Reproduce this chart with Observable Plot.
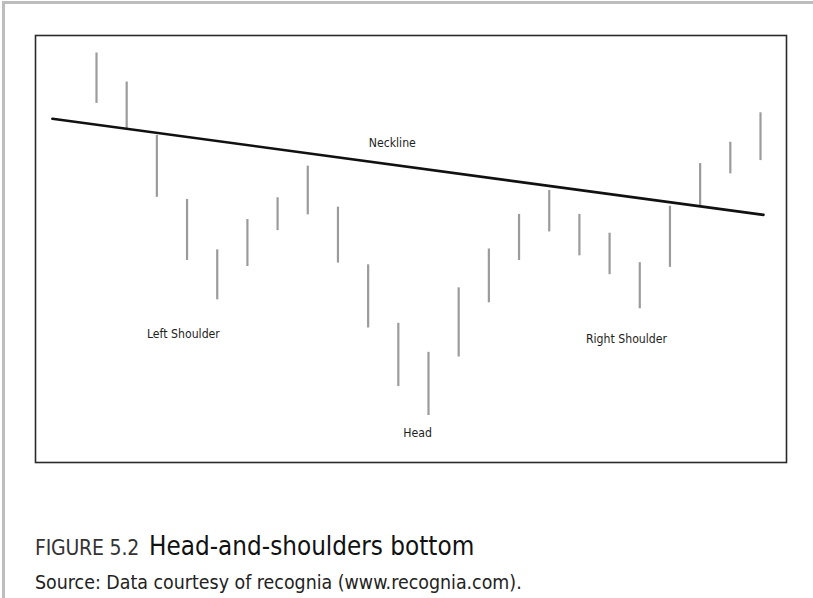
<!DOCTYPE html>
<html>
<head>
<meta charset="utf-8">
<script src="https://cdn.jsdelivr.net/npm/d3@7"></script>
<script src="https://cdn.jsdelivr.net/npm/@observablehq/plot@0.6"></script>
<style>
  html, body { margin: 0; padding: 0; background: #fff; width: 813px; height: 598px; overflow: hidden; }
  body { position: relative; font-family: "Liberation Sans Narrow", "DejaVu Sans Condensed", "Liberation Sans", sans-serif; }
  #page { position: absolute; left: 2px; top: 1px; width: 811px; height: 597px; border-left: 3px solid #bdbdbd; border-top: 3px solid #bdbdbd; box-sizing: border-box; }
  #chart { position: absolute; left: 34px; top: 34px; }
  #caption { position: absolute; left: 35px; top: 531px; white-space: nowrap; color: #1a1a1a; }
  #fig { font-size: 21px; font-weight: 300; color: #333; letter-spacing: -0.2px; }
  #title { font-size: 25.8px; color: #111; margin-left: 10px; }
  #source { position: absolute; left: 35px; top: 571px; font-size: 19.4px; color: #222; white-space: nowrap; }
</style>
</head>
<body>
<div id="page"></div>
<div id="chart"></div>
<div id="caption"><span id="fig">FIGURE 5.2</span><span id="title">Head-and-shoulders bottom</span></div>
<div id="source">Source: Data courtesy of recognia (www.recognia.com).</div>
<script>
// Session index (1..23), daily high and low (arbitrary price units)
const sessions = [1,2,3,4,5,6,7,8,9,10,11,12,13,14,15,16,17,18,19,20,21,22,23];
const highs = [95.9,89.1,76.6,61.6,49.8,56.9,62.0,69.4,59.8,46.3,32.6,25.8,40.9,50.0,58.1,63.7,58.1,53.7,46.8,60.0,70.0,75.0,81.9];
const lows  = [84.1,78.2,62.1,47.3,38.1,45.9,54.3,58.0,46.7,31.5,17.8,11.0,24.7,37.4,47.3,54.0,48.4,44.0,36.0,45.7,60.2,67.6,70.7];

// Neckline endpoints
const necklineX = [-0.46, 23.1];
const necklineY = [80.5, 58.0];

// Annotation labels
const labelText = ["Neckline", "Left Shoulder", "Head", "Right Shoulder"];
const labelX = [10.8, 3.88, 11.64, 18.56];
const labelY = [74.9, 30.0, 6.8, 28.8];

const bars = sessions.map((s, k) => ({s, high: highs[k], low: lows[k]}));
const neck = necklineX.map((x, k) => ({x, y: necklineY[k]}));
const labels = labelText.map((t, k) => ({t, x: labelX[k], y: labelY[k]}));

const chart = Plot.plot({
  width: 753,
  height: 429,
  margin: 1,
  x: {domain: [1, 23], range: [62, 726], axis: null},
  y: {domain: [0, 100], range: [428, 1], axis: null},
  style: {fontFamily: '"Liberation Sans Narrow", "DejaVu Sans Condensed", sans-serif', background: "transparent", overflow: "visible"},
  marks: [
    Plot.frame({stroke: "#2a2a2a", strokeWidth: 1.6}),
    Plot.ruleX(bars, {x: "s", y1: "low", y2: "high", stroke: "#9b9b9b", strokeWidth: 2.2}),
    Plot.line(neck, {x: "x", y: "y", stroke: "#111", strokeWidth: 2.6}),
    Plot.text(labels, {x: "x", y: "y", text: "t", fontSize: 12.2, fill: "#1e1e1e"})
  ]
});
document.getElementById("chart").appendChild(chart);
</script>
</body>
</html>
